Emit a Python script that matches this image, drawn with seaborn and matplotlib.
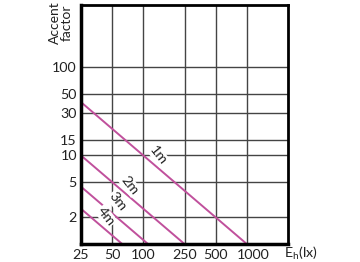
import matplotlib
matplotlib.use("Agg")
import matplotlib.pyplot as plt
import matplotlib.transforms as mtransforms
import seaborn as sns
import pandas as pd

# ---- data ----
distances = ["1m", "2m", "3m", "4m"]
illum_1m = [25, 1000]
factor_1m = [40, 1]
illum_2m = [25, 250]
factor_2m = [10, 1]
illum_3m = [25, 111]
factor_3m = [4.44, 1]
illum_4m = [25, 62.5]
factor_4m = [2.5, 1]

x_ticks = [25, 50, 100, 250, 500, 1000]
x_tick_labels = ["25", "50", "100", "250", "500", "1000"]
y_ticks = [2, 5, 10, 15, 30, 50, 100]
y_tick_labels = ["2", "5", "10", "15", "30", "50", "100"]

label_x = [140, 74, 56, 43.6]
label_y = [10.0, 4.6, 3.0, 2.05]

rows = []
for name, xs, ys in zip(distances,
                        [illum_1m, illum_2m, illum_3m, illum_4m],
                        [factor_1m, factor_2m, factor_3m, factor_4m]):
    for xv, yv in zip(xs, ys):
        rows.append({"E": xv, "factor": yv, "dist": name})
df = pd.DataFrame(rows)

sns.set_theme(style="white")
plt.rcParams["font.family"] = ["Lato", "DejaVu Sans"]

fig = plt.figure(figsize=(3.6, 2.62), dpi=100)
ax = fig.add_axes([81 / 360, 1 - 244 / 262, 207 / 360, 239 / 262])

line_color = "#c0509c"
sns.lineplot(data=df, x="E", y="factor", hue="dist", units="dist", estimator=None,
             palette=[line_color] * 4, legend=False, ax=ax, linewidth=1.4, zorder=3)

ax.set_xscale("log")
ax.set_yscale("log")
ax.set_xlim(25, 2500)
ax.set_ylim(1, 500)

ax.set_xticks(x_ticks)
ax.set_xticklabels(x_tick_labels)
ax.set_yticks(y_ticks)
ax.set_yticklabels(y_tick_labels)
ax.minorticks_off()
ax.tick_params(axis="both", length=0, labelsize=10.3, colors="#222222")
ax.tick_params(axis="x", pad=3.5)
ax.tick_params(axis="y", pad=3)

# the "1000" label sits a little right of its grid line in the reference
last = ax.get_xticklabels()[-1]
last.set_transform(last.get_transform() +
                   mtransforms.ScaledTranslation(6 / 100, 0, fig.dpi_scale_trans))

ax.grid(True, which="major", color="#444444", linewidth=1.0)
for s in ax.spines.values():
    s.set_color("black")
    s.set_linewidth(2.0)
    s.set_zorder(5)
ax.spines["left"].set_linewidth(2.5)
ax.spines["bottom"].set_linewidth(2.5)

ax.set_xlabel("")
ax.set_ylabel("")

for name, lx, ly in zip(distances, label_x, label_y):
    ax.text(lx, ly, name, rotation=-52, ha="center", va="center", fontsize=10.3,
            color="#222222", zorder=4,
            bbox=dict(boxstyle="square,pad=0.05", fc="white", ec="none"))

fig.text(61 / 360, 1 - 23 / 262, "Accent\nfactor", rotation=90, ha="center",
         va="center", fontsize=10, color="#222222", linespacing=0.95)
fig.text(284 / 360, 1 - 253 / 262, "E$_\\mathregular{h}$(lx)", ha="left", va="center",
         fontsize=10.3, color="#222222")

fig.savefig("out.png", dpi=100)
